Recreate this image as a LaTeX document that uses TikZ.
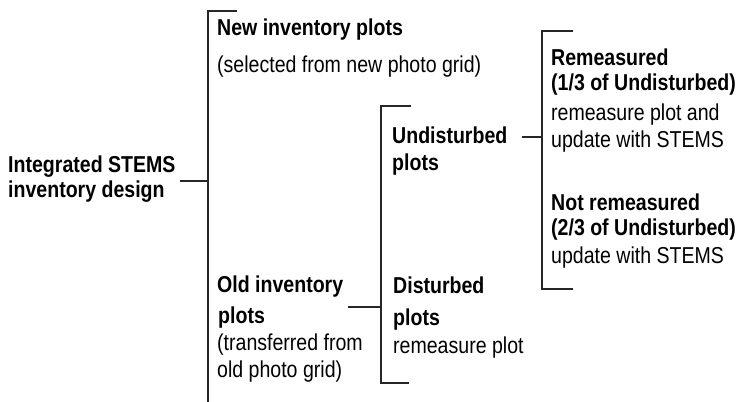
\documentclass[tikz,border=0pt]{standalone}
\usepackage{fontspec}
\setmainfont{Liberation Sans}[FakeStretch=0.85]
\usepackage{tikz}
\usepackage{xcolor}

\tikzset{
  txt/.style={anchor=base west, inner sep=0pt, align=left, font=\fontsize{23}{25}\selectfont},
  bracket/.style={draw=black!85, line width=1.6pt},
  link/.style={draw=black!85, line width=1.6pt}
}

\begin{document}
\begin{tikzpicture}[x=1pt, y=-1pt]
\useasboundingbox (0,0) rectangle (740,402);

\node[txt] (design) at (8,197) {\textbf{Integrated STEMS}\\\textbf{inventory design}};
\node[txt] (new) at (217,72) {\textbf{New inventory plots}\\[12pt](selected from new photo grid)};
\node[txt] (old) at (217,377) {\textbf{Old inventory}\\[6pt]\hspace{1pt}\textbf{plots}\\[2pt](transferred from\\[2pt]old photo grid)};
\node[txt] (undist) at (392,170) {\textbf{Undisturbed}\\[2pt]\textbf{plots}};
\node[txt] (dist) at (393,353) {\textbf{Disturbed}\\[7pt]\textbf{plots}\\[3pt]remeasure plot};
\node[txt] (remeas) at (551,147) {\textbf{Remeasured}\\\textbf{(1/3 of Undisturbed)}\\[5pt]remeasure plot and\\[2pt]update with STEMS};
\node[txt] (notremeas) at (551,263) {\textbf{Not remeasured}\\\textbf{(2/3 of Undisturbed)}\\[3pt]update with STEMS};

\coordinate (b1top) at (208,11);
\coordinate (b1bot) at (208,404);
\coordinate (b2top) at (381,106);
\coordinate (b2bot) at (381,383);
\coordinate (b3top) at (542,31);
\coordinate (b3bot) at (542,289);

\draw[bracket] ([xshift=29pt]b1top) -- (b1top) -- (b1bot);
\draw[bracket] ([xshift=30pt]b2top) -- (b2top) -- (b2bot) -- ([xshift=28pt]b2bot);
\draw[bracket] ([xshift=31pt]b3top) -- (b3top) -- (b3bot) -- ([xshift=31pt]b3bot);

\coordinate (designend) at (180,181);
\coordinate (oldend) at (348,307);
\coordinate (undend) at (522,137);

\draw[link] (designend) -- (designend -| b1top);
\draw[link] (oldend) -- (oldend -| b2top);
\draw[link] (undend) -- (undend -| b3top);
\end{tikzpicture}
\end{document}
